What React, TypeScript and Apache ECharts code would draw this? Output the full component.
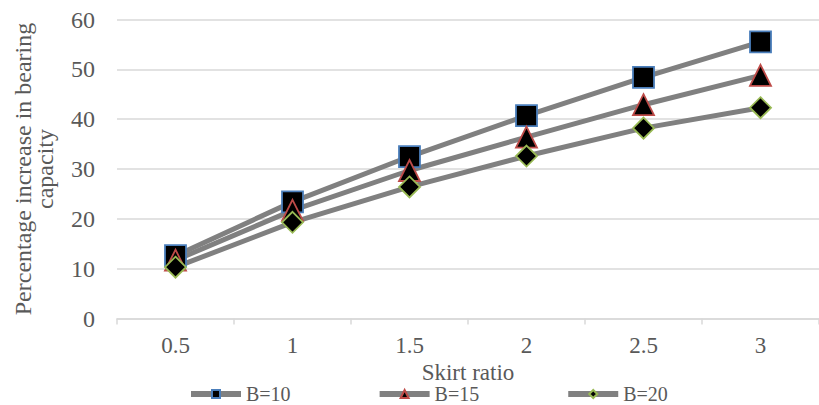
import React, { useEffect, useRef } from "react";
import * as echarts from "echarts";

const categories = ["0.5", "1", "1.5", "2", "2.5", "3"];
const seriesNames = ["B=10", "B=15", "B=20"];
const b10 = [12.6, 23.4, 32.5, 40.7, 48.4, 55.5];
const b15 = [11.7, 21.7, 29.7, 36.4, 42.9, 48.8];
const b20 = [10.3, 19.3, 26.4, 32.6, 38.2, 42.3];

const FONT = "Liberation Serif";
const TEXT = "#595959";

export default function App() {
  const ref = useRef<HTMLDivElement>(null);
  useEffect(() => {
    if (!ref.current) return;
    const chart = echarts.init(ref.current, null, { renderer: "svg" });
    const mk = (name: string, data: number[], symbol: string, size: any, border: string) => ({
      name,
      type: "line",
      data,
      symbol,
      symbolSize: size,
      showAllSymbol: true,
      lineStyle: { color: "#808080", width: 5 },
      itemStyle: { color: "#000000", borderColor: border, borderWidth: 1.8 },
      emphasis: { disabled: true },
    });
    chart.setOption({
      animation: false,
      textStyle: { fontFamily: FONT },
      grid: { left: 117, width: 710, top: 19.5, height: 299 },
      legend: {
        top: 379,
        left: 183,
        itemGap: 86,
        itemWidth: 50,
        itemHeight: 10,
        lineStyle: { width: 6, color: "#808080" },
        textStyle: { fontFamily: FONT, fontSize: 20, color: TEXT, lineHeight: 18 },
        data: seriesNames,
      },
      xAxis: {
        type: "category",
        data: categories,
        boundaryGap: true,
        name: "Skirt ratio",
        nameLocation: "middle",
        nameGap: 23,
        nameTextStyle: { fontFamily: FONT, fontSize: 23, color: TEXT, lineHeight: 20 },
        axisLine: { lineStyle: { color: "#d9d9d9", width: 1.5 } },
        axisTick: { show: true, length: 6, lineStyle: { color: "#d9d9d9", width: 1.5 } },
        axisLabel: { fontFamily: FONT, fontSize: 23, color: TEXT, margin: 15 },
      },
      yAxis: {
        type: "value",
        min: 0,
        max: 60,
        interval: 10,
        name: "Percentage increase in bearing\ncapacity",
        nameLocation: "middle",
        nameGap: 61,
        nameTextStyle: { fontFamily: FONT, fontSize: 24, color: TEXT, lineHeight: 22 },
        axisLine: { show: false },
        axisTick: { show: false },
        axisLabel: { fontFamily: FONT, fontSize: 24, color: TEXT, margin: 22 },
        splitLine: { lineStyle: { color: "#d9d9d9", width: 1.5 } },
      },
      series: [
        mk(seriesNames[0], b10, "rect", 21, "#4a7ebb"),
        mk(seriesNames[1], b15, "triangle", 21, "#be4b48"),
        mk(seriesNames[2], b20, "diamond", 21, "#98b954"),
      ],
    });
    return () => chart.dispose();
  }, []);
  return (
    <div
      ref={ref}
      style={{ position: "absolute", left: 0, top: 0, width: 819, height: 405 }}
    />
  );
}
